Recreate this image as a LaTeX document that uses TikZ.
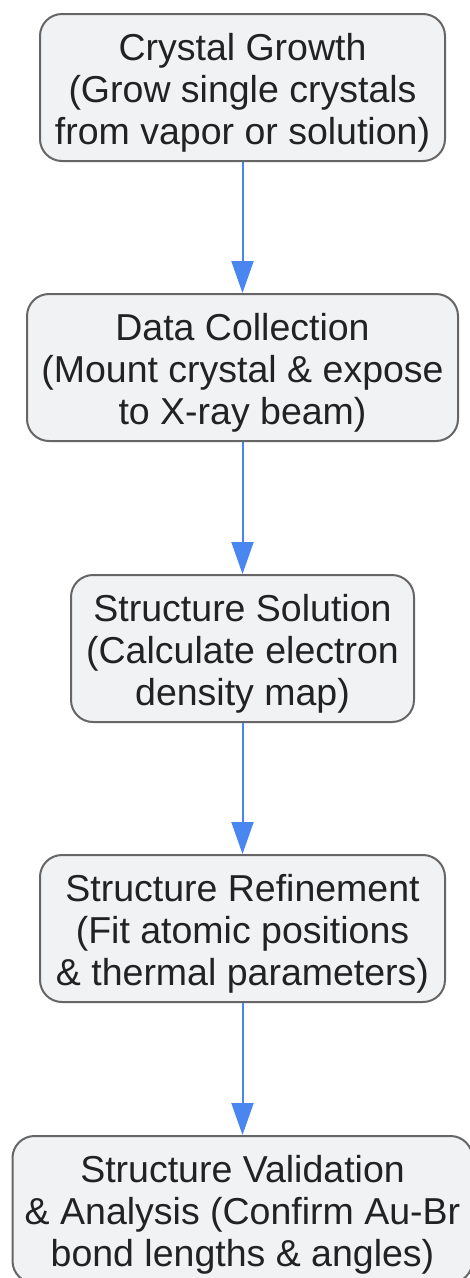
\documentclass[tikz,border=0pt]{standalone}
\usepackage{fontspec}
\setmainfont{Liberation Sans}
\usetikzlibrary{arrows.meta}
\definecolor{boxfill}{HTML}{F1F2F4}
\definecolor{boxdraw}{HTML}{666666}
\definecolor{txt}{HTML}{222222}
\definecolor{arrowblue}{HTML}{4A86F0}
\newcommand{\boxlines}[1]{\raisebox{-7pt}[\height][\depth]{\begin{tabular}{@{}c@{}}#1\end{tabular}}}
\tikzset{
  stepbox/.style={draw=boxdraw, line width=2pt, fill=boxfill, rounded corners=22pt,
    minimum height=147pt, align=center, text=txt, inner sep=0pt,
    font=\fontsize{37.5}{42}\selectfont},
  flow/.style={draw=arrowblue, line width=2pt, -{Triangle[length=32pt,width=22pt]}}
}
\begin{document}
\begin{tikzpicture}[x=1pt,y=1pt]
\useasboundingbox (0,0) rectangle (470,-1278);
\node[stepbox, minimum width=405pt] (a) at (242.5,-87.5) {\boxlines{Crystal Growth\\(Grow single crystals\\from vapor or solution)}};
\node[stepbox, minimum width=431pt] (b) at (242.5,-367.5) {\boxlines{Data Collection\\(Mount crystal \& expose\\to X-ray beam)}};
\node[stepbox, minimum width=343pt] (c) at (242.5,-648.5) {\boxlines{Structure Solution\\(Calculate electron\\density map)}};
\node[stepbox, minimum width=405pt] (d) at (242.5,-928.5) {\boxlines{Structure Refinement\\(Fit atomic positions\\\& thermal parameters)}};
\node[stepbox, minimum width=460pt] (e) at (242.5,-1209.5) {\boxlines{Structure Validation\\\& Analysis (Confirm Au-Br\\bond lengths \& angles)}};
\draw[flow] (a) -- (b);
\draw[flow] (b) -- (c);
\draw[flow] (c) -- (d);
\draw[flow] (d) -- (e);
\end{tikzpicture}
\end{document}
